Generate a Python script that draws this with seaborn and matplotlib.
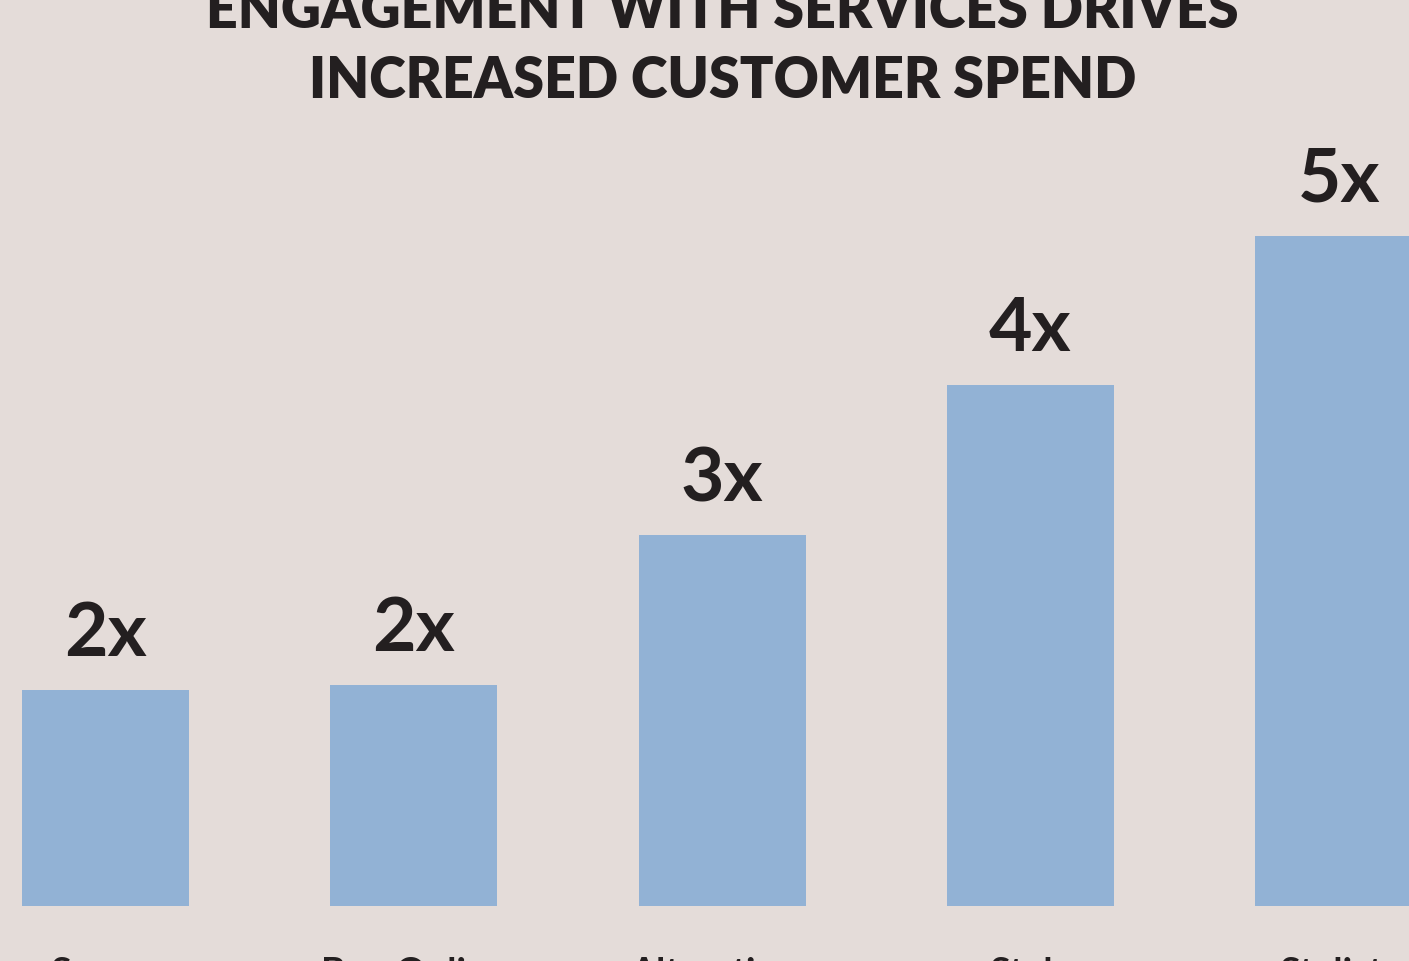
import matplotlib
matplotlib.use("Agg")
import matplotlib.pyplot as plt
import seaborn as sns
import pandas as pd

# ---- data ----
categories = ["Savers", "Buy Online", "Alterations", "Style", "Stylists"]
multipliers = ["2x", "2x", "3x", "4x", "5x"]
bar_heights = [216, 221, 371, 521, 670]
title_lines = ["ENGAGEMENT WITH SERVICES DRIVES", "INCREASED CUSTOMER SPEND"]

BG = "#e4dcd9"
BAR = "#92b2d5"
INK = "#231f20"

sns.set_theme(style="white")
plt.rcParams["font.family"] = ["Lato", "DejaVu Sans"]

df = pd.DataFrame({"service": categories, "height": bar_heights})

fig = plt.figure(figsize=(14.09, 9.61), dpi=100, facecolor=BG)
ax = fig.add_axes([0, 0, 1, 1])
ax.set_facecolor(BG)

sns.barplot(data=df, x="service", y="height", color=BAR, saturation=1,
            width=0.542, linewidth=0, edgecolor=BAR, ax=ax)

spacing = 308.3
ax.set_xlim(-105.5 / spacing, (1409 - 105.5) / spacing)
ax.set_ylim(-55, 906)
ax.axis("off")

for i, (h, lab) in enumerate(zip(bar_heights, multipliers)):
    ax.text(i, h + 34, lab, ha="center", va="baseline", fontsize=54,
            fontweight="bold", color=INK)

for i, cat in enumerate(categories):
    ax.text(i, -79, cat, ha="center", va="baseline", fontsize=27,
            fontweight="bold", color=INK)

cx = 722.5 / 1409
fig.text(cx, 1 - 28 / 961, title_lines[0], ha="center", va="baseline",
         fontsize=40, fontweight="heavy", color=INK)
fig.text(cx, 1 - 98 / 961, title_lines[1], ha="center", va="baseline",
         fontsize=40, fontweight="heavy", color=INK)

fig.savefig("out.png", dpi=100, facecolor=BG)
